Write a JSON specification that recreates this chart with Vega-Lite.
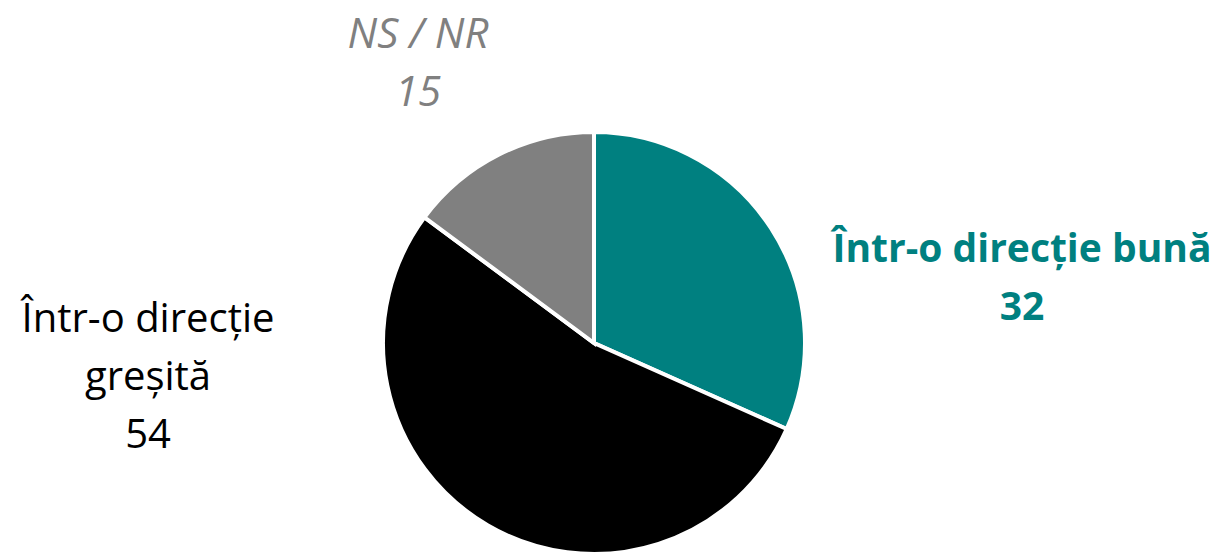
{
  "$schema": "https://vega.github.io/schema/vega-lite/v6.json",
  "width": 1188,
  "height": 686,
  "autosize": {"type": "none"},
  "padding": {"left": 0, "top": 0, "right": 40, "bottom": 0},
  "background": "white",
  "config": {"view": {"stroke": null}},
  "data": {"values": [
    {"cat": "bun", "label": "Într-o direcție bună\n32", "value": 32, "order": 1},
    {"cat": "gres", "label": "Într-o direcție\ngreșită\n54", "value": 54, "order": 2},
    {"cat": "ns", "label": "NS / NR\n15", "value": 15, "order": 3}
  ]},
  "encoding": {
    "theta": {"field": "value", "type": "quantitative", "stack": true},
    "order": {"field": "order", "type": "quantitative"}
  },
  "layer": [
    {
      "mark": {"type": "arc", "outerRadius": 211, "stroke": "white", "strokeWidth": 4},
      "encoding": {
        "color": {"field": "cat", "type": "nominal", "legend": null,
          "scale": {"domain": ["bun", "gres", "ns"], "range": ["#008080", "#000000", "#808080"]}}
      }
    },
    {
      "transform": [{"filter": "datum.cat == 'bun'"}],
      "mark": {"type": "text", "radius": 0, "dx": 428, "dy": -93, "lineBreak": "\n", "lineHeight": 58,
        "font": "Open Sans", "fontSize": 39, "fontWeight": "bold", "color": "#008080", "align": "center", "baseline": "middle"},
      "encoding": {"text": {"field": "label"}}
    },
    {
      "transform": [{"filter": "datum.cat == 'gres'"}],
      "mark": {"type": "text", "radius": 0, "dx": -446, "dy": -23, "lineBreak": "\n", "lineHeight": 58,
        "font": "Open Sans", "fontSize": 40, "color": "#000000", "align": "center", "baseline": "middle"},
      "encoding": {"text": {"field": "label"}}
    },
    {
      "transform": [{"filter": "datum.cat == 'ns'"}],
      "mark": {"type": "text", "radius": 0, "dx": -176, "dy": -308, "lineBreak": "\n", "lineHeight": 58,
        "font": "Open Sans", "fontSize": 42, "fontStyle": "italic", "color": "#808080", "align": "center", "baseline": "middle"},
      "encoding": {"text": {"field": "label"}}
    }
  ]
}
